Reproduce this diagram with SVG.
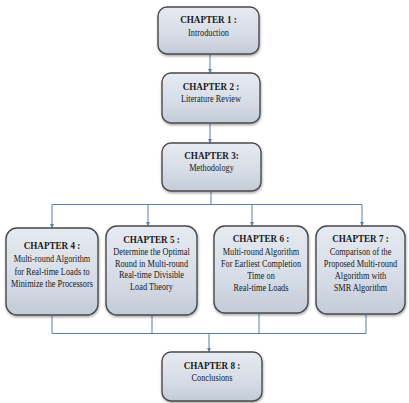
<svg xmlns="http://www.w3.org/2000/svg" width="409" height="403" viewBox="0 0 409 403">
<style>
.box{fill:url(#g);stroke:#4a4a4a;stroke-width:1.4;filter:url(#sh)}
.h{font-family:"Liberation Serif",serif;font-weight:bold;font-size:11px;fill:#1a1a1a;text-anchor:middle}
.t{font-family:"Liberation Serif",serif;font-size:10px;fill:#1a1a1a;text-anchor:middle}
.c{stroke:#5a7fa8;stroke-width:1;fill:none}
.ca{stroke:#5a7fa8;stroke-width:1;fill:none;marker-end:url(#ar)}
</style>
<defs>
<linearGradient id="g" x1="0" y1="0" x2="0" y2="1">
<stop offset="0" stop-color="#e6eaf1"/>
<stop offset="0.6" stop-color="#d6dce6"/>
<stop offset="1" stop-color="#c3cbd8"/>
</linearGradient>
<filter id="sh" x="-10%" y="-10%" width="125%" height="130%">
<feDropShadow dx="0.5" dy="1.5" stdDeviation="1.2" flood-color="#000" flood-opacity="0.35"/>
</filter>
<marker id="ar" viewBox="0 0 6 6" refX="6" refY="3" markerWidth="4" markerHeight="4" orient="auto">
<path d="M0,0 L6,3 L0,6 z" fill="#5a7fa8"/>
</marker>
</defs>
<rect width="409" height="403" fill="#fff"/>
<g id="connectors">
<line class="ca" x1="210" y1="55" x2="210" y2="73"/>
<line class="ca" x1="210" y1="124" x2="210" y2="143"/>
<line class="c" x1="211" y1="192" x2="211" y2="204.5"/>
<line class="c" x1="52" y1="204.5" x2="362" y2="204.5"/>
<line class="ca" x1="52" y1="204.5" x2="52" y2="228"/>
<line class="ca" x1="148" y1="204.5" x2="148" y2="226"/>
<line class="ca" x1="252" y1="204.5" x2="252" y2="226"/>
<line class="ca" x1="362" y1="204.5" x2="362" y2="226"/>
<line class="c" x1="52" y1="316" x2="52" y2="333.5"/>
<line class="c" x1="152" y1="316" x2="152" y2="333.5"/>
<line class="c" x1="259" y1="314" x2="259" y2="333.5"/>
<line class="c" x1="366" y1="315" x2="366" y2="333.5"/>
<line class="c" x1="52" y1="333.5" x2="366" y2="333.5"/>
<line class="ca" x1="209" y1="333.5" x2="209" y2="352"/>
</g>
<g id="ch1">
<rect class="box" x="158" y="7" width="101" height="47" rx="9"/>
<g transform="translate(208.5,0) scale(0.83,1)"><text class="h" x="0" y="23">CHAPTER 1 :</text><text class="t" x="0" y="36">Introduction</text></g>
</g>
<g id="ch2">
<rect class="box" x="162" y="73" width="98" height="50" rx="9"/>
<g transform="translate(211,0) scale(0.83,1)"><text class="h" x="0" y="90">CHAPTER 2 :</text><text class="t" x="0" y="102">Literature Review</text></g>
</g>
<g id="ch3">
<rect class="box" x="162" y="143" width="99" height="48" rx="9"/>
<g transform="translate(211.5,0) scale(0.83,1)"><text class="h" x="0" y="159">CHAPTER 3:</text><text class="t" x="0" y="171">Methodology</text></g>
</g>
<g id="ch4">
<rect class="box" x="6" y="228" width="92" height="87" rx="11"/>
<g transform="translate(52,0) scale(0.83,1)"><text class="h" x="0" y="249">CHAPTER 4 :</text><text class="t" x="0" y="262">Multi-round Algorithm</text><text class="t" x="0" y="275">for Real-time Loads to</text><text class="t" x="0" y="287">Minimize the Processors</text></g>
</g>
<g id="ch5">
<rect class="box" x="106" y="226" width="91" height="89" rx="11"/>
<g transform="translate(151.5,0) scale(0.83,1)"><text class="h" x="0" y="243">CHAPTER 5 :</text><text class="t" x="0" y="255">Determine the Optimal</text><text class="t" x="0" y="267">Round in Multi-round</text><text class="t" x="0" y="278">Real-time Divisible</text><text class="t" x="0" y="290">Load Theory</text></g>
</g>
<g id="ch6">
<rect class="box" x="214" y="226" width="94" height="87" rx="11"/>
<g transform="translate(261,0) scale(0.83,1)"><text class="h" x="0" y="242">CHAPTER 6 :</text><text class="t" x="0" y="255">Multi-round Algorithm</text><text class="t" x="0" y="267">For Earliest Completion</text><text class="t" x="0" y="279">Time on</text><text class="t" x="0" y="291">Real-time Loads</text></g>
</g>
<g id="ch7">
<rect class="box" x="316" y="226" width="89" height="88" rx="11"/>
<g transform="translate(360.5,0) scale(0.83,1)"><text class="h" x="0" y="242">CHAPTER 7 :</text><text class="t" x="0" y="255">Comparison of the</text><text class="t" x="0" y="267">Proposed Multi-round</text><text class="t" x="0" y="279">Algorithm with</text><text class="t" x="0" y="291">SMR Algorithm</text></g>
</g>
<g id="ch8">
<rect class="box" x="162" y="352" width="100" height="49" rx="9"/>
<g transform="translate(212,0) scale(0.83,1)"><text class="h" x="0" y="369">CHAPTER 8 :</text><text class="t" x="0" y="381">Conclusions</text></g>
</g>
</svg>
